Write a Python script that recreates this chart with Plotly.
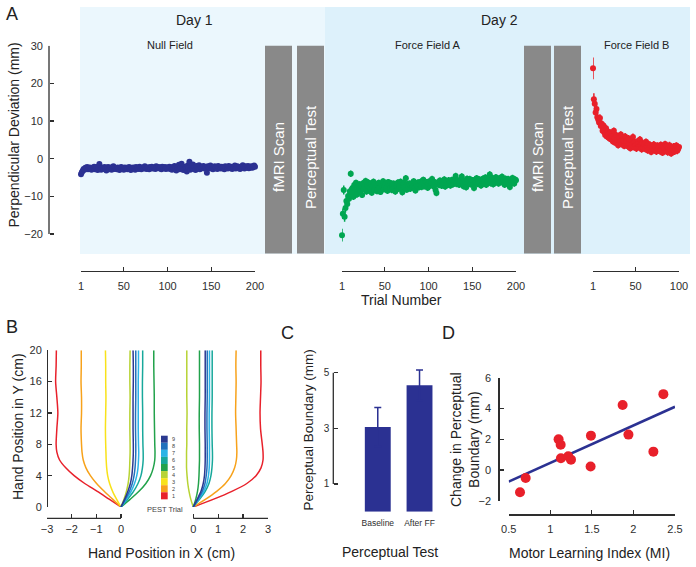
import plotly.graph_objects as go

W, H = 696, 567
def X(px): return px / W
def Y(px): return 1 - px / H

FONT = "Liberation Sans, Arial, sans-serif"
AX = "#2E2E2E"

# ---------------- Panel A data ----------------
blue_vals = [
-4.1,-3.6,-3.2,-2.7,-2.9,-2.4,-2.6,-2.2,-2.8,-2.5,
-2.3,-2.7,-2.9,-2.4,-2.6,-2.1,-2.8,-2.5,-2.2,-3.0,
-2.4,-1.4,-2.6,-2.9,-2.3,-2.5,-2.7,-2.2,-2.6,-3.1,
-2.4,-2.2,-2.8,-2.5,-2.3,-2.9,-2.6,-2.0,-2.7,-2.4,
-2.5,-2.8,-2.3,-2.6,-3.0,-2.4,-2.2,-2.7,-2.5,-2.9,
-2.3,-2.6,-2.4,-2.8,-2.5,-2.2,-2.7,-3.0,-2.4,-2.6,
-2.3,-2.5,-2.9,-2.2,-2.6,-2.4,-2.7,-2.1,-2.5,-2.8,
-2.4,-2.3,-2.6,-2.0,-2.5,-2.7,-2.3,-2.4,-2.8,-2.2,
-2.5,-2.1,-2.6,-2.4,-2.3,-2.7,-2.0,-2.5,-2.4,-2.2,
-2.6,-2.3,-2.8,-2.1,-2.4,-2.5,-2.2,-2.7,-2.3,-2.6,
-2.4,-2.1,-2.7,-2.3,-2.9,-2.2,-2.5,-1.9,-2.6,-3.1,
-2.2,-2.4,-1.6,-2.8,-2.3,-1.3,-2.5,-3.0,-2.1,-2.6,
-2.2,-3.4,-1.8,-2.4,-0.8,-2.9,-2.0,-2.5,-1.5,-2.7,
-2.2,-3.0,-1.9,-2.4,-2.6,-1.7,-2.8,-2.1,-2.5,-2.3,
-1.9,-2.6,-2.2,-2.4,-3.7,-2.0,-2.5,-2.3,-1.8,-2.6,
-2.2,-2.8,-2.4,-2.0,-2.5,-2.3,-2.7,-1.9,-2.4,-2.2,
-2.6,-2.1,-2.5,-2.3,-2.8,-2.0,-2.4,-2.2,-2.6,-1.9,
-2.3,-2.5,-2.1,-2.7,-2.2,-2.4,-1.8,-2.6,-2.3,-2.0,
-2.5,-2.2,-2.7,-2.1,-2.4,-1.7,-2.3,-2.6,-2.0,-2.2,
-2.4,-1.9,-2.5,-2.1,-2.3,-2.0,-2.4,-2.2,-1.8,-2.1]
blue_err = 0.55

green_vals = [
-20.3,-14.6,-8.3,-15.4,-13.1,-11.2,-12.0,-9.9,-10.6,-8.6,
-4.0,-9.2,-7.8,-10.1,-7.0,-8.8,-6.4,-9.5,-7.6,-8.3,
-6.8,-8.9,-7.2,-9.6,-6.5,-8.0,-7.4,-5.9,-8.7,-7.1,
-6.3,-8.4,-7.7,-6.6,-9.0,-7.3,-6.1,-8.2,-7.5,-6.9,
-8.6,-7.0,-6.4,-7.9,-8.8,-6.7,-7.3,-6.0,-8.1,-7.4,
-6.8,-7.7,-8.5,-6.2,-7.1,-7.9,-6.5,-8.3,-7.0,-6.6,
-7.8,-8.7,-6.9,-7.2,-6.3,-8.0,-7.5,-6.1,-7.7,-8.9,
-7.0,-6.4,-7.6,-5.2,-8.2,-6.8,-7.3,-6.6,-8.0,-7.1,
-6.5,-7.4,-6.0,-7.9,-8.4,-6.7,-7.2,-6.3,-7.6,-6.9,
-6.1,-7.5,-6.8,-5.6,-7.3,-6.4,-7.0,-6.2,-7.7,-6.6,
-6.0,-7.1,-6.5,-5.4,-6.9,-7.4,-6.2,-8.3,-9.1,-6.7,
-6.3,-7.0,-5.8,-6.6,-7.2,-6.1,-6.8,-5.5,-7.4,-6.4,
-6.0,-6.9,-5.7,-6.5,-7.1,-6.2,-5.6,-6.8,-6.3,-5.9,
-4.6,-6.7,-6.1,-5.8,-6.9,-6.4,-5.5,-4.7,-6.2,-7.3,
-5.9,-6.6,-7.6,-5.3,-6.4,-6.0,-5.4,-6.8,-6.2,-5.7,
-6.9,-7.8,-5.6,-6.3,-5.2,-6.7,-6.0,-5.5,-6.4,-7.1,
-5.8,-5.3,-6.6,-6.1,-5.0,-6.9,-5.7,-6.2,-5.4,-4.2,
-6.5,-5.9,-5.1,-6.8,-5.6,-6.3,-4.9,-6.0,-5.5,-6.6,
-5.2,-6.1,-5.8,-4.8,-6.4,-5.6,-6.9,-5.3,-5.9,-6.2,
-5.4,-6.7,-7.5,-5.8,-6.3,-5.1,-6.0,-6.6,-5.5,-5.7]
green_err_first = [1.7, 1.4, 1.2, 1.3, 1.2, 1.1, 1.1, 1.0, 1.0, 1.0]
green_err_typical = 0.85

red_vals = [
24.0,15.8,14.6,12.3,13.2,11.0,10.4,9.6,10.8,8.7,
9.3,7.4,8.8,7.0,6.3,8.1,5.9,7.2,6.6,5.4,
6.9,5.1,6.0,4.6,7.4,5.5,4.2,6.2,5.0,3.6,
5.7,4.5,6.4,3.9,5.2,4.8,3.4,5.9,4.1,4.7,
3.3,5.4,4.0,2.8,4.9,3.7,5.8,3.1,4.4,3.6,
2.7,4.6,3.9,3.2,5.1,3.5,2.5,4.2,3.0,3.8,
2.6,4.5,3.3,2.2,3.9,2.9,3.6,1.8,3.4,2.7,
3.8,2.3,3.1,1.9,3.5,2.6,3.0,2.0,3.7,2.4,
1.6,3.2,2.8,3.9,2.1,3.4,1.7,2.9,3.6,2.2,
1.4,3.0,2.5,3.3,1.9,2.7,3.5,2.1,2.6,3.1]
red_err_first = [2.9, 1.6, 1.4, 1.3, 1.2, 1.2, 1.1, 1.1, 1.0, 1.0]
red_err_typical = 0.9

a_trial_ticks = [1, 50, 100, 150, 200]
a_trial_ticks_b = [1, 50, 100]
a_y_ticks = [-20, -10, 0, 10, 20, 30]

# ---------------- Panel B data ----------------
b_y = [0, 1, 2, 3, 4, 5, 6, 7, 8, 10, 12, 14, 16, 18, 20]
b_left = {
    1: [0, -0.48, -0.96, -1.47, -1.90, -2.24, -2.49, -2.60, -2.63, -2.60, -2.56, -2.60, -2.65, -2.63, -2.62],
    2: [0, -0.34, -0.68, -0.99, -1.24, -1.42, -1.53, -1.58, -1.60, -1.62, -1.60, -1.60, -1.62, -1.61, -1.61],
    3: [0, -0.18, -0.34, -0.46, -0.54, -0.58, -0.60, -0.61, -0.62, -0.63, -0.62, -0.61, -0.62, -0.62, -0.63],
    4: [0, 0.12, 0.22, 0.29, 0.33, 0.35, 0.36, 0.37, 0.37, 0.36, 0.36, 0.37, 0.36, 0.36, 0.37],
    5: [0, 0.38, 0.73, 1.01, 1.20, 1.31, 1.37, 1.38, 1.37, 1.36, 1.35, 1.35, 1.34, 1.33, 1.33],
    6: [0, 0.27, 0.51, 0.69, 0.81, 0.87, 0.90, 0.90, 0.89, 0.88, 0.88, 0.87, 0.87, 0.88, 0.88],
    7: [0, 0.22, 0.41, 0.55, 0.64, 0.69, 0.71, 0.72, 0.71, 0.70, 0.70, 0.70, 0.70, 0.71, 0.71],
    8: [0, 0.18, 0.34, 0.46, 0.53, 0.57, 0.59, 0.60, 0.60, 0.59, 0.59, 0.60, 0.60, 0.60, 0.60],
    9: [0, 0.15, 0.28, 0.38, 0.44, 0.47, 0.49, 0.50, 0.50, 0.49, 0.49, 0.49, 0.50, 0.50, 0.49],
}
b_right = {
    1: [0, 0.82, 1.55, 2.15, 2.52, 2.72, 2.80, 2.80, 2.77, 2.70, 2.68, 2.70, 2.72, 2.71, 2.71],
    2: [0, 0.50, 0.94, 1.29, 1.52, 1.66, 1.73, 1.75, 1.74, 1.72, 1.70, 1.71, 1.72, 1.71, 1.72],
    4: [0, -0.10, -0.17, -0.22, -0.25, -0.27, -0.27, -0.27, -0.26, -0.26, -0.25, -0.26, -0.26, -0.26, -0.26],
    5: [0, 0.10, 0.17, 0.21, 0.23, 0.24, 0.25, 0.25, 0.25, 0.24, 0.24, 0.25, 0.25, 0.25, 0.25],
    6: [0, 0.26, 0.48, 0.63, 0.71, 0.75, 0.77, 0.77, 0.76, 0.75, 0.75, 0.76, 0.76, 0.76, 0.76],
    7: [0, 0.22, 0.42, 0.55, 0.61, 0.64, 0.65, 0.65, 0.65, 0.64, 0.64, 0.65, 0.65, 0.65, 0.65],
    8: [0, 0.19, 0.36, 0.47, 0.52, 0.55, 0.56, 0.56, 0.56, 0.55, 0.55, 0.56, 0.56, 0.56, 0.56],
    9: [0, 0.16, 0.31, 0.40, 0.45, 0.47, 0.48, 0.48, 0.48, 0.47, 0.47, 0.48, 0.48, 0.48, 0.48],
}
pest_trials = [1, 2, 3, 4, 5, 6, 7, 8, 9]
pest_colors = ["#E8212B", "#F7A21B", "#F8E21A", "#B7D334", "#22A24B",
               "#17A89B", "#2AB4E6", "#2371BC", "#2B3990"]
b_y_ticks = [0, 4, 8, 12, 16, 20]
b_left_ticks = [-3, -2, -1, 0]
b_right_ticks = [0, 1, 2, 3]

# ---------------- Panel C data ----------------
c_cats = ["Baseline", "After FF"]
c_vals = [3.05, 4.55]
c_err = [0.70, 0.55]
c_y_ticks = [1, 3, 5]

# ---------------- Panel D data ----------------
d_mi = [0.636, 0.704, 1.10, 1.125, 1.128, 1.216, 1.249, 1.489, 1.485, 1.87, 1.94, 2.24, 2.36]
d_change = [-1.45, -0.52, 1.99, 1.64, 0.76, 0.89, 0.67, 2.23, 0.22, 4.22, 2.30, 1.19, 4.93]
d_fit_x = [0.5, 2.5]
d_fit_y = [-0.76, 4.11]
d_x_ticks = [0.5, 1, 1.5, 2, 2.5]
d_x_ticktext = ["0.5", "1", "1.5", "2", "2.5"]
d_y_ticks = [-2, 0, 2, 4, 6]

NAVY = "#2B3192"
GREEN = "#00A651"
RED = "#E8202A"

fig = go.Figure()

def trials(vals):
    return list(range(1, len(vals) + 1))

green_err = green_err_first + [green_err_typical] * (len(green_vals) - len(green_err_first))
red_err = red_err_first + [red_err_typical] * (len(red_vals) - len(red_err_first))

fig.add_trace(go.Scatter(x=trials(blue_vals), y=blue_vals, mode="markers",
    marker=dict(color=NAVY, size=6),
    error_y=dict(type="constant", value=blue_err, color=NAVY, thickness=1.5, width=0),
    xaxis="x", yaxis="y", cliponaxis=False, showlegend=False))
fig.add_trace(go.Scatter(x=trials(green_vals), y=green_vals, mode="markers",
    marker=dict(color=GREEN, size=6),
    error_y=dict(type="data", array=green_err, color=GREEN, thickness=1.5, width=0),
    xaxis="x2", yaxis="y", cliponaxis=False, showlegend=False))
fig.add_trace(go.Scatter(x=trials(red_vals), y=red_vals, mode="markers",
    marker=dict(color=RED, size=6),
    error_y=dict(type="data", array=red_err, color=RED, thickness=1.5, width=0),
    xaxis="x3", yaxis="y", cliponaxis=False, showlegend=False))

# Panel B curves
for t in pest_trials:
    if t in b_left:
        fig.add_trace(go.Scatter(x=b_left[t], y=b_y, mode="lines",
            line=dict(color=pest_colors[t - 1], width=1.5, shape="spline", smoothing=0.8),
            xaxis="x4", yaxis="y2", showlegend=False))
for t in pest_trials:
    if t in b_right:
        fig.add_trace(go.Scatter(x=b_right[t], y=b_y, mode="lines",
            line=dict(color=pest_colors[t - 1], width=1.5, shape="spline", smoothing=0.8),
            xaxis="x5", yaxis="y2", showlegend=False))

# Panel C bars
fig.add_trace(go.Bar(x=c_cats, y=c_vals, width=0.62, marker=dict(color=NAVY, line=dict(width=0)),
    error_y=dict(type="data", array=c_err, color=NAVY, thickness=1.5, width=3.5),
    xaxis="x6", yaxis="y3", showlegend=False))

# Panel D
fig.add_trace(go.Scatter(x=d_fit_x, y=d_fit_y, mode="lines", line=dict(color=NAVY, width=2.6),
    xaxis="x7", yaxis="y4", showlegend=False))
fig.add_trace(go.Scatter(x=d_mi, y=d_change, mode="markers", marker=dict(color=RED, size=10),
    xaxis="x7", yaxis="y4", cliponaxis=False, showlegend=False))

def axis(**kw):
    base = dict(showgrid=False, zeroline=False, showline=True, linecolor=AX, linewidth=1.3,
                ticks="inside", ticklen=4, tickwidth=1.3, tickcolor=AX, automargin=False,
                tickfont=dict(family=FONT, size=11, color=AX), anchor="free", fixedrange=True)
    base.update(kw)
    return base

layout = dict(
    template="none",
    width=W, height=H, autosize=False,
    margin=dict(l=0, r=0, t=0, b=0, pad=0),
    paper_bgcolor="white", plot_bgcolor="rgba(0,0,0,0)",
    font=dict(family=FONT, color="#222"),
    showlegend=False, hovermode=False,
    # Panel A
    xaxis=axis(domain=[X(81), X(255)], range=[1, 200], tickvals=a_trial_ticks, position=Y(271), ticklabelstandoff=4),
    xaxis2=axis(domain=[X(342), X(516)], range=[1, 200], tickvals=a_trial_ticks, position=Y(271), ticklabelstandoff=4),
    xaxis3=axis(domain=[X(593), X(679)], range=[1, 100], tickvals=a_trial_ticks_b, position=Y(271), ticklabelstandoff=4),
    yaxis=axis(domain=[Y(253.3), Y(45.7)], range=[-25.1, 30], tickvals=a_y_ticks, position=X(49), showline=False, ticklabelstandoff=6),
    # Panel B
    xaxis4=axis(domain=[X(47), X(159.2)], range=[-3, 1.55], tickvals=b_left_ticks, position=Y(518.3), showline=False, ticklabelstandoff=3),
    xaxis5=axis(domain=[X(183.3), X(268)], range=[-0.4, 3], tickvals=b_right_ticks, position=Y(518.3), showline=False, ticklabelstandoff=3),
    yaxis2=axis(domain=[Y(507), Y(350.3)], range=[0, 20], tickvals=b_y_ticks, position=X(47), ticklabelstandoff=3),
    # Panel C
    xaxis6=axis(domain=[X(356.9), X(440.4)], range=[-0.5, 1.5], type="category", showline=False, ticks="",
                position=Y(512.7), tickfont=dict(family=FONT, size=8.5, color=AX), ticklabelstandoff=4),
    yaxis3=axis(domain=[Y(511.7), Y(364.4)], range=[0, 5.3], tickvals=c_y_ticks, position=X(333.3), showline=False,
                tickfont=dict(family=FONT, size=10, color=AX), ticklabelstandoff=4),
    # Panel D
    xaxis7=axis(domain=[X(508.7), X(675)], range=[0.5, 2.5], tickvals=d_x_ticks, ticktext=d_x_ticktext, position=Y(514.3), ticklabelstandoff=4),
    yaxis4=axis(domain=[Y(500.7), Y(377.7)], range=[-2, 6], tickvals=d_y_ticks, position=X(498.3), ticklabelstandoff=5),
)
fig.update_layout(**layout)

shapes = []
# Panel A backgrounds
shapes.append(dict(type="rect", xref="paper", yref="paper", x0=X(80), x1=X(325), y0=Y(254), y1=Y(7),
                   fillcolor="#EBF7FD", line=dict(width=0), layer="below"))
shapes.append(dict(type="rect", xref="paper", yref="paper", x0=X(325), x1=X(690), y0=Y(254), y1=Y(7),
                   fillcolor="#DDF1FB", line=dict(width=0), layer="below"))
gray_bars = [(265, 292, "fMRI Scan"), (297, 324, "Perceptual Test"),
             (524, 551, "fMRI Scan"), (554, 581, "Perceptual Test")]
for x0, x1, label in gray_bars:
    shapes.append(dict(type="rect", xref="paper", yref="paper", x0=X(x0), x1=X(x1), y0=Y(253.5), y1=Y(45.7),
                       fillcolor="#898989", line=dict(width=0), layer="below"))
# partial axis lines
shapes.append(dict(type="line", xref="paper", yref="y", x0=X(49), x1=X(49), y0=-20, y1=30,
                   line=dict(color=AX, width=1.3)))
shapes.append(dict(type="line", xref="x4", yref="paper", x0=-3, x1=0, y0=Y(518.3), y1=Y(518.3),
                   line=dict(color=AX, width=1.3)))
shapes.append(dict(type="line", xref="x5", yref="paper", x0=0, x1=3, y0=Y(518.3), y1=Y(518.3),
                   line=dict(color=AX, width=1.3)))
shapes.append(dict(type="line", xref="paper", yref="y3", x0=X(333.3), x1=X(333.3), y0=1, y1=5,
                   line=dict(color=AX, width=1.3)))
# PEST color key
key_top, key_h = 435.7, 7.07
for i, t in enumerate(reversed(pest_trials)):
    y_top = key_top + i * key_h
    shapes.append(dict(type="rect", xref="paper", yref="paper", x0=X(161), x1=X(167.7),
                       y0=Y(y_top + key_h), y1=Y(y_top), fillcolor=pest_colors[t - 1], line=dict(width=0)))
fig.update_layout(shapes=shapes)

ann = []
def text(x, y, s, size, color="#222", angle=0, **kw):
    ann.append(dict(x=X(x), y=Y(y), xref="paper", yref="paper", text=s, showarrow=False,
                    font=dict(family=FONT, size=size, color=color), textangle=angle,
                    xanchor="center", yanchor="middle", **kw))

text(12, 14, "A", 18)
text(195, 20, "Day 1", 14)
text(500, 20, "Day 2", 14)
text(170, 45, "Null Field", 11)
text(427, 45, "Force Field A", 11)
text(636, 45, "Force Field B", 11)
for x0, x1, label in gray_bars:
    text((x0 + x1) / 2 + 0.5, 157, label, 15, color="white", angle=-90)
text(13.5, 135, "Perpendicular Deviation (mm)", 14, angle=-90)
text(401, 300, "Trial Number", 14)

text(12, 327, "B", 18)
text(17.5, 426.5, "Hand Position in Y (cm)", 14, angle=-90)
text(161, 552.5, "Hand Position in X (cm)", 14)
key_labels = "<br>".join(str(t) for t in reversed(pest_trials))
text(173.5, key_top + 9 * key_h / 2, key_labels, 5.5, color="#444")
text(165, 509, "PEST Trial", 7.5, color="#444")

text(287, 333, "C", 18)
text(307.5, 430, "Perceptual Boundary (mm)", 13.5, angle=-90)
text(390, 551.5, "Perceptual Test", 14)

text(448, 333, "D", 18)
text(465, 440, "Change in Perceptual<br>Boundary (mm)", 14, angle=-90)
text(589, 552.5, "Motor Learning Index (MI)", 14)

fig.update_layout(annotations=ann)
fig.write_html("out.html", config={"displayModeBar": False, "staticPlot": True},
               post_script="document.body.style.margin='0';document.body.style.overflow='hidden';")
